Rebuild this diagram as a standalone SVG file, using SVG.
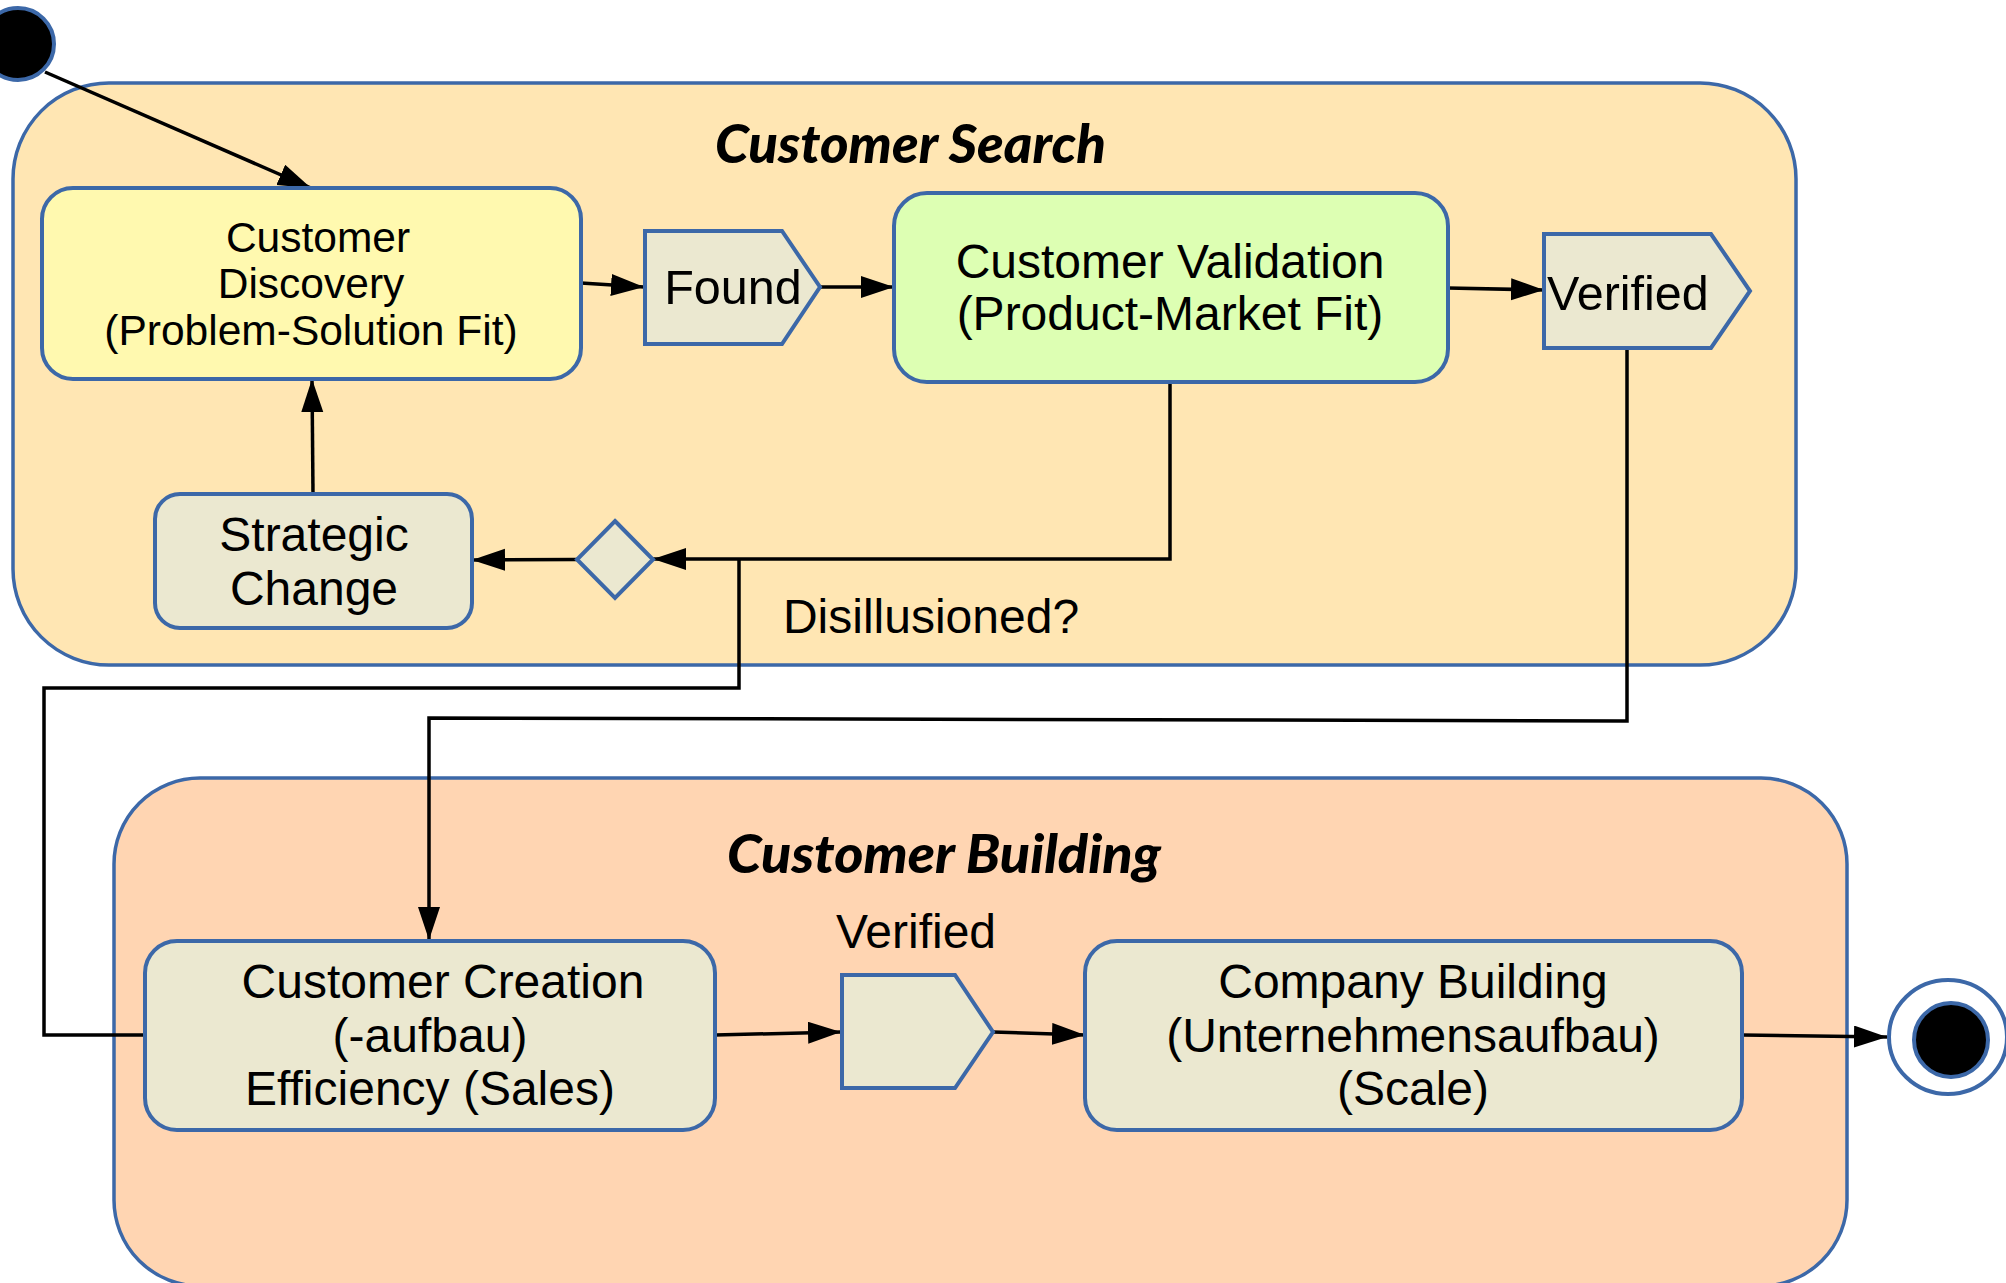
<svg xmlns="http://www.w3.org/2000/svg" width="2006" height="1283" viewBox="0 0 2006 1283">
  <defs>
    <marker id="arrow" markerUnits="userSpaceOnUse" markerWidth="34" markerHeight="24" refX="33" refY="11" orient="auto">
      <path d="M0,0 L33,11 L0,22 z" fill="#000"/>
    </marker>
    <style>
      .container { stroke: #3C68A8; stroke-width: 3.5; }
      .node { stroke: #3C68A8; stroke-width: 4; }
      .beige { fill: #EBE8D0; }
      .label { font-family: "Liberation Sans", Arial, sans-serif; fill: #000; text-anchor: middle; }
      .title { font-family: Lato, "Open Sans", sans-serif; font-weight: 900; font-style: italic; fill: #000; }
      .wire { fill: none; stroke: #000; stroke-width: 3.5; }
      .arrowed { marker-end: url(#arrow); }
    </style>
  </defs>

  <rect width="2006" height="1283" fill="#FFFFFF"/>

  <!-- containers -->
  <g id="customer-search">
    <rect class="container" x="13" y="83" width="1783" height="582" rx="96" ry="96" fill="#FFE6B3"/>
    <text class="title" x="715" y="163" font-size="54" textLength="391" lengthAdjust="spacingAndGlyphs">Customer Search</text>
  </g>
  <g id="customer-building">
    <rect class="container" x="114" y="778" width="1733" height="508" rx="86" ry="86" fill="#FFD5B2"/>
    <text class="title" x="727" y="873" font-size="54" textLength="434" lengthAdjust="spacingAndGlyphs">Customer Building</text>
  </g>

  <!-- connectors -->
  <g id="connectors">
    <line class="wire arrowed" x1="45" y1="72" x2="311" y2="188"/>
    <line class="wire arrowed" x1="581" y1="283" x2="644" y2="287"/>
    <line class="wire arrowed" x1="821" y1="287" x2="894" y2="287"/>
    <line class="wire arrowed" x1="1448" y1="288" x2="1544" y2="290"/>
    <polyline class="wire arrowed" points="1170,382 1170,559 653,559"/>
    <line class="wire arrowed" x1="577" y1="559.5" x2="472" y2="560"/>
    <line class="wire arrowed" x1="313" y1="494" x2="312" y2="379"/>
    <polyline class="wire" points="739,559 739,688 44,688 44,1035 145,1035"/>
    <polyline class="wire arrowed" points="1627,330 1627,721 429,718 429,940"/>
    <line class="wire arrowed" x1="715" y1="1035" x2="841" y2="1032"/>
    <line class="wire arrowed" x1="993" y1="1032" x2="1085" y2="1035"/>
    <line class="wire arrowed" x1="1742" y1="1035" x2="1887" y2="1037"/>
  </g>

  <!-- start / end -->
  <g id="start">
    <circle cx="18" cy="44" r="36" fill="#000" stroke="#3C68A8" stroke-width="4"/>
  </g>
  <g id="end">
    <ellipse cx="1948" cy="1037" rx="59" ry="57" fill="#FFFFFF" stroke="#3C68A8" stroke-width="4"/>
    <circle cx="1951" cy="1040" r="37" fill="#000" stroke="#3C68A8" stroke-width="4"/>
  </g>

  <!-- Customer Search states -->
  <g id="customer-discovery">
    <rect class="node" x="42" y="188" width="539" height="191" rx="31" ry="31" fill="#FFF9AF"/>
    <text class="label" font-size="42.5"><tspan x="318" y="252">Customer</tspan><tspan x="311" y="298">Discovery</tspan><tspan x="311" y="345">(Problem-Solution Fit)</tspan></text>
  </g>
  <g id="found">
    <polygon class="node beige" points="645,231 782,231 820,287 782,344 645,344"/>
    <text class="label" x="733" y="304" font-size="48.5">Found</text>
  </g>
  <g id="customer-validation">
    <rect class="node" x="894" y="193" width="554" height="189" rx="33" ry="33" fill="#DDFFB3"/>
    <text class="label" font-size="48"><tspan x="1170" y="278">Customer Validation</tspan><tspan x="1170" y="330">(Product-Market Fit)</tspan></text>
  </g>
  <g id="verified-search">
    <polygon class="node beige" points="1544,234 1711,234 1750,291 1711,348 1544,348"/>
    <text class="label" x="1547" y="310" font-size="48.5" style="text-anchor:start">Verified</text>
  </g>
  <g id="decision">
    <polygon class="node beige" points="615,521 653,559.5 615,598 577,559.5" stroke-width="3.5"/>
  </g>
  <g id="strategic-change">
    <rect class="node beige" x="155" y="494" width="317" height="134" rx="25" ry="25"/>
    <text class="label" font-size="48"><tspan x="314" y="551">Strategic</tspan><tspan x="314" y="605">Change</tspan></text>
  </g>
  <text class="label" x="931" y="633" font-size="48">Disillusioned?</text>

  <!-- Customer Building states -->
  <g id="customer-creation">
    <rect class="node beige" x="145" y="941" width="570" height="189" rx="32" ry="32"/>
    <text class="label" font-size="48"><tspan x="443" y="998">Customer Creation</tspan><tspan x="430" y="1052">(-aufbau)</tspan><tspan x="430" y="1105">Efficiency (Sales)</tspan></text>
  </g>
  <g id="verified-building">
    <text class="label" x="916" y="948" font-size="48">Verified</text>
    <polygon class="node beige" points="842,975 955,975 993,1032 955,1088 842,1088"/>
  </g>
  <g id="company-building">
    <rect class="node beige" x="1085" y="941" width="657" height="189" rx="32" ry="32"/>
    <text class="label" font-size="48"><tspan x="1413" y="998">Company Building</tspan><tspan x="1413" y="1052">(Unternehmensaufbau)</tspan><tspan x="1413" y="1105">(Scale)</tspan></text>
  </g>
</svg>
